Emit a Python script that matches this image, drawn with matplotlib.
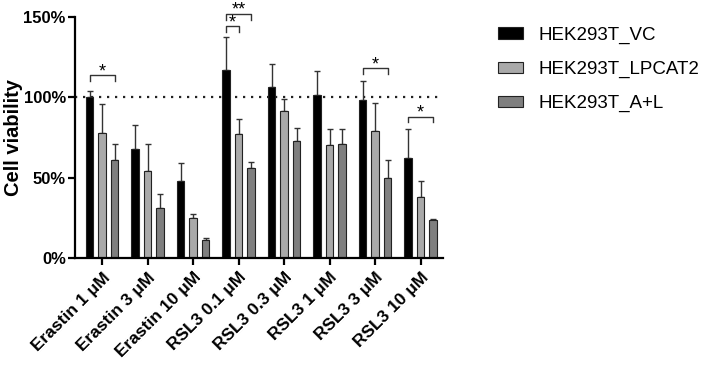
import numpy as np
import matplotlib.pyplot as plt

plt.rcParams['font.family'] = ['Liberation Sans', 'DejaVu Sans']

treatments = ["Erastin 1 μM", "Erastin 3 μM", "Erastin 10 μM", "RSL3 0.1 μM",
              "RSL3 0.3 μM", "RSL3 1 μM", "RSL3 3 μM", "RSL3 10 μM"]
series = ["HEK293T_VC", "HEK293T_LPCAT2", "HEK293T_A+L"]

vc_mean = [100, 67.5, 48, 117, 106.5, 101.5, 98, 62]
vc_err = [4, 15.5, 11, 20.5, 14, 14.5, 12, 18]
lp_mean = [78, 54, 25, 77, 91.5, 70, 79, 38]
lp_err = [18, 17, 2.5, 9.5, 7.5, 10.5, 17.5, 10]
al_mean = [61, 31, 11, 56, 73, 71, 49.5, 23.5]
al_err = [10, 9, 1.5, 3.5, 8, 9, 11.5, 1]

colors = ["#000000", "#a9a9a9", "#7f7f7f"]

# significance brackets: (group, bar_from, bar_to, height, label)
sig = [(0, 0, 2, 113.5, "*"), (3, 0, 1, 144, "*"), (3, 0, 2, 152, "**"),
       (6, 0, 2, 118, "*"), (7, 0, 2, 88, "*")]

fig = plt.figure(figsize=(7.06, 3.65), dpi=100)
ax = fig.add_axes([0.106, 0.293, 0.522, 0.661])

x = np.arange(len(treatments))
off = 0.275
w = 0.165
means = [vc_mean, lp_mean, al_mean]
errs = [vc_err, lp_err, al_err]
for k in range(3):
    xs = x + (k - 1) * off
    ax.bar(xs, means[k], width=w, color=colors[k], edgecolor="#222222",
           linewidth=0.8, label=series[k], zorder=2)
    ax.errorbar(xs, means[k], yerr=[np.zeros(len(x)), errs[k]], fmt="none",
                ecolor="#333333", elinewidth=1.0, capsize=2, capthick=1.0, zorder=1)

ax.axhline(100, color="#222222", linestyle=(0, (1, 2.6)), linewidth=1.6, zorder=0)

for g, a, b, h, lab in sig:
    x0 = g + (a - 1) * off
    x1 = g + (b - 1) * off
    ax.plot([x0, x0, x1, x1], [h - 3.7, h, h, h - 3.7], color="#333333",
            linewidth=1.0, clip_on=False)
    ax.text((x0 + x1) / 2, h - 0.5, lab, ha="center", va="baseline", fontsize=13,
            clip_on=False)

ax.set_xlim(-0.6, 7.5)
ax.set_ylim(0, 150)
ax.set_yticks([0, 50, 100, 150])
ax.set_yticklabels(["0%", "50%", "100%", "150%"], fontsize=12, fontweight="bold")
ax.set_xticks(x)
ax.set_xticklabels(treatments, rotation=45, ha="right", rotation_mode="anchor",
                   fontsize=12.5, fontweight="bold")
fig.text(14 / 706, 1 - 138 / 365, "Cell viability", rotation=90, ha="center",
         va="center", fontsize=14.5, fontweight="bold")
for s in ["top", "right"]:
    ax.spines[s].set_visible(False)
for s in ["left", "bottom"]:
    ax.spines[s].set_linewidth(1.6)
ax.tick_params(width=1.6, length=5)
ax.tick_params(axis="y", pad=1.5)

ax.legend(loc="upper left", bbox_to_anchor=(0.705, 0.926), bbox_transform=fig.transFigure,
          frameon=False, fontsize=13.5, handlelength=1.35, handleheight=0.6,
          labelspacing=0.9, handletextpad=0.85, borderpad=0, borderaxespad=0)

fig.savefig("out.png", dpi=100)
